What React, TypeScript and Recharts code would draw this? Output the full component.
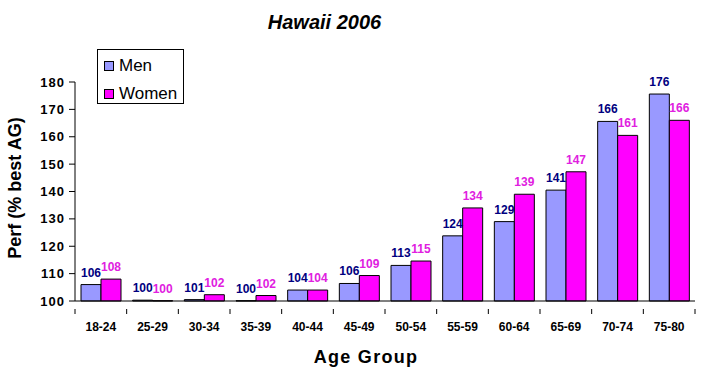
import { Bar, BarChart, LabelList, Label, XAxis, YAxis } from "recharts";

// 年齢区分とシリーズ値（ラベルは四捨五入して表示）
const ageGroups = ["18-24", "25-29", "30-34", "35-39", "40-44", "45-49", "50-54", "55-59", "60-64", "65-69", "70-74", "75-80"];
const menPerf = [106, 100.3, 100.5, 100.1, 104, 106.4, 113, 123.8, 129, 140.5, 165.6, 175.6];
const womenPerf = [108, 100.1, 102.3, 102, 104, 109.3, 114.6, 134, 139, 147.2, 160.5, 166];
const yTicks = [100, 110, 120, 130, 140, 150, 160, 170, 180];

const series = [
  { key: "men", name: "Men", fill: "#9999FF", labelColor: "#000080" },
  { key: "women", name: "Women", fill: "#FF00FF", labelColor: "#E020E0" },
];

const data = ageGroups.map((g, i) => ({ group: g, men: menPerf[i], women: womenPerf[i] }));

const FONT = "Arial, 'Liberation Sans', sans-serif";
const W = 703;
const H = 377;
const PLOT_LEFT = 75;
const PLOT_RIGHT = 695;
const BAND = (PLOT_RIGHT - PLOT_LEFT) / ageGroups.length;

// カテゴリ境界に目盛り線を描く
function GroupTick(props: any) {
  const { x, y, payload, index } = props;
  return (
    <g>
      <line x1={x - BAND / 2} x2={x - BAND / 2} y1={y} y2={y + 5} stroke="#000" />
      {index === ageGroups.length - 1 && (
        <line x1={x + BAND / 2} x2={x + BAND / 2} y1={y} y2={y + 5} stroke="#000" />
      )}
      <text x={x} y={y + 22} textAnchor="middle" fontSize={12} fontWeight="bold" fontFamily={FONT} fill="#000">
        {payload.value}
      </text>
    </g>
  );
}

export default function App() {
  return (
    <div style={{ position: "relative", width: W, height: H, background: "#fff", fontFamily: FONT }}>
      <style>{"body{margin:0}"}</style>
      <div
        style={{
          position: "absolute",
          left: 0,
          top: 10,
          width: 649,
          textAlign: "center",
          fontSize: 20,
          lineHeight: "24px",
          fontWeight: "bold",
          fontStyle: "italic",
        }}
      >
        Hawaii 2006
      </div>
      <BarChart
        width={W}
        height={H}
        data={data}
        margin={{ top: 82, right: W - PLOT_RIGHT, left: 0, bottom: 0 }}
        barCategoryGap={6}
        barGap={0}
      >
        <XAxis
          dataKey="group"
          axisLine={{ stroke: "#000" }}
          tickLine={false}
          tick={<GroupTick />}
          interval={0}
          height={76}
        >
          <Label
            content={() => (
              <text
                x={366}
                y={363}
                textAnchor="middle"
                fontSize={18}
                fontWeight="bold"
                fontFamily={FONT}
                fill="#000"
                letterSpacing={1.3}
              >
                Age Group
              </text>
            )}
          />
        </XAxis>
        <YAxis
          domain={[100, 180]}
          ticks={yTicks}
          width={PLOT_LEFT}
          axisLine={{ stroke: "#000" }}
          tickLine={{ stroke: "#000" }}
          tickSize={6}
          tickMargin={4}
          tick={{ fontSize: 13, fontWeight: "bold", fontFamily: FONT, fill: "#000", letterSpacing: 1 }}
        >
          <Label
            content={() => (
              <text
                x={15}
                y={188}
                transform="rotate(-90 15 188)"
                textAnchor="middle"
                dominantBaseline="central"
                fontSize={18}
                fontWeight="bold"
                fontFamily={FONT}
                fill="#000"
              >
                Perf (% best AG)
              </text>
            )}
          />
        </YAxis>
        {series.map((s) => (
          <Bar key={s.key} dataKey={s.key} name={s.name} fill={s.fill} stroke="#000" strokeWidth={1} isAnimationActive={false}>
            <LabelList
              dataKey={s.key}
              position="top"
              offset={8}
              formatter={(v: any) => Math.round(Number(v))}
              style={{ fontSize: 12, fontWeight: "bold", fontFamily: FONT, fill: s.labelColor }}
            />
          </Bar>
        ))}
      </BarChart>
      <div
        style={{
          position: "absolute",
          left: 97,
          top: 49,
          width: 87,
          height: 55,
          boxSizing: "border-box",
          border: "1px solid #000",
          background: "#fff",
        }}
      >
        {series.map((s, i) => (
          <div
            key={s.key}
            style={{ position: "absolute", left: 6, top: 6 + i * 28, height: 20, display: "flex", alignItems: "center" }}
          >
            <span
              style={{
                width: 10,
                height: 10,
                boxSizing: "border-box",
                border: "1px solid #000",
                background: s.fill,
                marginRight: 5,
              }}
            />
            <span style={{ fontSize: 17, lineHeight: "20px" }}>{s.name}</span>
          </div>
        ))}
      </div>
    </div>
  );
}
